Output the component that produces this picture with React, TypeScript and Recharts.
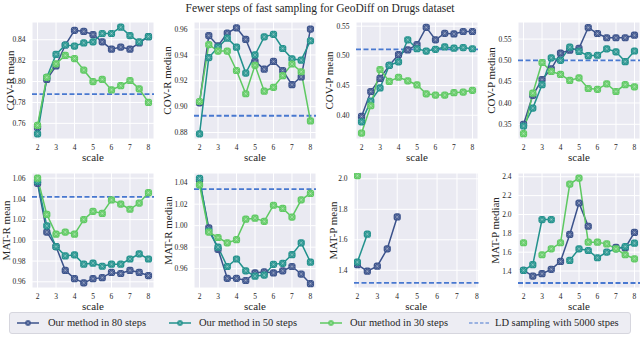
import React from 'react';
import { LineChart, Line, XAxis, YAxis, CartesianGrid, ReferenceLine } from 'recharts';

const NAVY = '#3b528b';
const TEAL = '#21918c';
const GREEN = '#5ec962';
const LD_BLUE = '#4878d0';
const INK = '#262626';
const FONT = '"Liberation Serif", "Times New Roman", serif';

const scales = [2, 2.5, 3, 3.5, 4, 4.5, 5, 5.5, 6, 6.5, 7, 7.5, 8];
const xTicks = [2, 3, 4, 5, 6, 7, 8];

// COV-R mean
const covRMean80 = [0.756, 0.802, 0.815, 0.835, 0.849, 0.848, 0.845, 0.838, 0.831, 0.833, 0.831, 0.837, 0.843];
const covRMean50 = [0.750, 0.804, 0.826, 0.835, 0.834, 0.837, 0.838, 0.846, 0.846, 0.852, 0.844, 0.838, 0.843];
const covRMean30 = [0.758, 0.804, 0.817, 0.825, 0.822, 0.811, 0.800, 0.802, 0.792, 0.796, 0.801, 0.793, 0.780];
const covRMeanLD = 0.788;
const covRMeanTicks = [0.76, 0.78, 0.8, 0.82, 0.84];

// COV-R median
const covRMedian80 = [0.903, 0.955, 0.947, 0.957, 0.961, 0.952, 0.935, 0.929, 0.935, 0.928, 0.917, 0.923, 0.960];
const covRMedian50 = [0.879, 0.938, 0.946, 0.953, 0.946, 0.926, 0.940, 0.954, 0.956, 0.945, 0.937, 0.936, 0.951];
const covRMedian30 = [0.904, 0.948, 0.943, 0.943, 0.928, 0.910, 0.932, 0.912, 0.915, 0.924, 0.933, 0.927, 0.889];
const covRMedianLD = 0.893;
const covRMedianTicks = [0.88, 0.9, 0.92, 0.94, 0.96];

// COV-P mean
const covPMean80 = [0.398, 0.440, 0.462, 0.484, 0.502, 0.510, 0.519, 0.548, 0.527, 0.538, 0.537, 0.541, 0.541];
const covPMean50 = [0.389, 0.424, 0.446, 0.484, 0.490, 0.527, 0.512, 0.508, 0.511, 0.515, 0.513, 0.514, 0.512];
const covPMean30 = [0.370, 0.416, 0.477, 0.457, 0.464, 0.458, 0.451, 0.436, 0.434, 0.434, 0.438, 0.439, 0.442];
const covPMeanLD = 0.511;
const covPMeanTicks = [0.4, 0.45, 0.5, 0.55];

// COV-P median
const covPMedian80 = [0.350, 0.418, 0.455, 0.480, 0.517, 0.524, 0.528, 0.577, 0.563, 0.553, 0.553, 0.553, 0.559];
const covPMedian50 = [0.346, 0.388, 0.443, 0.506, 0.500, 0.531, 0.521, 0.511, 0.512, 0.527, 0.520, 0.497, 0.522];
const covPMedian30 = [0.328, 0.423, 0.495, 0.474, 0.467, 0.453, 0.459, 0.434, 0.432, 0.445, 0.427, 0.443, 0.438];
const covPMedianLD = 0.5;
const covPMedianTicks = [0.35, 0.4, 0.45, 0.5, 0.55];

// MAT-R mean
const matRMean80 = [1.055, 1.008, 0.994, 0.971, 0.963, 0.959, 0.963, 0.964, 0.969, 0.968, 0.971, 0.969, 0.966];
const matRMean50 = [1.057, 1.014, 0.994, 0.985, 0.986, 0.977, 0.978, 0.975, 0.977, 0.977, 0.982, 0.987, 0.982];
const matRMean30 = [1.060, 1.025, 1.006, 1.008, 1.006, 1.020, 1.028, 1.026, 1.039, 1.035, 1.030, 1.036, 1.046];
const matRMeanLD = 1.042;
const matRMeanTicks = [0.96, 0.98, 1.0, 1.02, 1.04, 1.06];

// MAT-R median
const matRMedian80 = [1.042, 0.998, 0.978, 0.951, 0.951, 0.949, 0.956, 0.957, 0.956, 0.958, 0.962, 0.955, 0.946];
const matRMedian50 = [1.044, 0.995, 0.980, 0.962, 0.969, 0.958, 0.953, 0.954, 0.964, 0.965, 0.973, 0.984, 0.966];
const matRMedian30 = [1.038, 0.994, 0.989, 0.984, 0.987, 1.006, 1.007, 1.004, 1.019, 1.016, 1.008, 1.024, 1.030];
const matRMedianLD = 1.034;
const matRMedianTicks = [0.96, 0.98, 1.0, 1.02, 1.04];

// MAT-P mean (missing points are off the chart in the source)
const matPMean80 = [1.437, 1.394, 1.427, 1.541, 1.75, null, null, null, null, null, null, null, null];
const matPMean50 = [1.454, 1.637, null, null, null, null, null, null, null, null, null, null, null];
const matPMean30 = [2.02, null, null, null, null, null, null, null, null, null, null, null, null];
const matPMeanLD = 1.318;
const matPMeanTicks = [1.4, 1.6, 1.8, 2.0];

// MAT-P median
const matPMedian80 = [1.407, 1.347, 1.372, 1.418, 1.502, 1.788, 2.122, 1.875, null, null, 1.65, 1.645, 1.81];
const matPMedian50 = [1.407, 1.467, 1.946, 1.946, null, 1.513, 1.636, 1.618, 1.541, 1.6, 1.636, 1.66, 1.696];
const matPMedian30 = [1.70, null, 1.573, 1.636, 1.70, 2.323, 2.386, 1.706, 1.706, 1.688, 1.636, 1.573, 1.53];
const matPMedianLD = 1.273;
const matPMedianTicks = [1.4, 1.6, 1.8, 2.0, 2.2, 2.4];

const colLeft = [32, 194, 355.5, 517.5];
const rowTop = [22, 172.5];
const rowH = [117, 115];
const PLOT_W = 122;
const AXIS_W = 32;
const TOP_PAD = 6;
const X_AXIS_H = 24;
const TICK_FS = 7.5;

const panels = [
  { name: 'COV-R mean', s80: covRMean80, s50: covRMean50, s30: covRMean30, ld: covRMeanLD, yDomain: [0.745, 0.857], yTicks: covRMeanTicks, dec: 2, row: 0, col: 0, labelX: 10 },
  { name: 'COV-R median', s80: covRMedian80, s50: covRMedian50, s30: covRMedian30, ld: covRMedianLD, yDomain: [0.875, 0.9655], yTicks: covRMedianTicks, dec: 2, row: 0, col: 1, labelX: 167 },
  { name: 'COV-P mean', s80: covPMean80, s50: covPMean50, s30: covPMean30, ld: covPMeanLD, yDomain: [0.36, 0.557], yTicks: covPMeanTicks, dec: 2, row: 0, col: 2, labelX: 328 },
  { name: 'COV-P median', s80: covPMedian80, s50: covPMedian50, s30: covPMedian30, ld: covPMedianLD, yDomain: [0.3155, 0.59], yTicks: covPMedianTicks, dec: 2, row: 0, col: 3, labelX: 490 },
  { name: 'MAT-R mean', s80: matRMean80, s50: matRMean50, s30: matRMean30, ld: matRMeanLD, yDomain: [0.954, 1.065], yTicks: matRMeanTicks, dec: 2, row: 1, col: 0, labelX: 6 },
  { name: 'MAT-R median', s80: matRMedian80, s50: matRMedian50, s30: matRMedian30, ld: matRMedianLD, yDomain: [0.942, 1.049], yTicks: matRMedianTicks, dec: 2, row: 1, col: 1, labelX: 168 },
  { name: 'MAT-P mean', s80: matPMean80, s50: matPMean50, s30: matPMean30, ld: matPMeanLD, yDomain: [1.284, 2.038], yTicks: matPMeanTicks, dec: 1, row: 1, col: 2, labelX: 333, xDomain: [1.83, 8.08], plotLeft: 354, plotW: 124.5 },
  { name: 'MAT-P median', s80: matPMedian80, s50: matPMedian50, s30: matPMedian30, ld: matPMedianLD, yDomain: [1.22, 2.44], yTicks: matPMedianTicks, dec: 1, row: 1, col: 3, labelX: 494 },
];

// blob-like "X" marker: filled disc with a faint white cross, like the downsampled source markers
const xMarker = (color: string) => (props: any) => {
  const { cx, cy, index, value } = props;
  if (cx == null || cy == null || value == null || Number.isNaN(cy)) return <g key={`m-${index}`} />;
  const d = 2.4;
  return (
    <g key={`m-${index}`}>
      <rect x={cx - 3.6} y={cy - 3.6} width={7.2} height={7.2} rx={2.6} fill={color} />
      <path
        d={`M${cx - d},${cy - d}L${cx + d},${cy + d}M${cx - d},${cy + d}L${cx + d},${cy - d}`}
        stroke="#ffffff"
        strokeOpacity={0.35}
        strokeWidth={0.8}
      />
      <path
        d={`M${cx - 3},${cy}L${cx + 3},${cy}M${cx},${cy - 3}L${cx},${cy + 3}`}
        stroke="#ffffff"
        strokeOpacity={0.2}
        strokeWidth={0.8}
      />
    </g>
  );
};

const xTick = (props: any) => (
  <text x={props.x} y={props.y + 11} textAnchor="middle" fontSize={TICK_FS} fontFamily={FONT} fill={INK}>
    {props.payload.value}
  </text>
);

const yTick = (dec: number) => (props: any) => (
  <text x={props.x - 6.5} y={props.y + 2.6} textAnchor="end" fontSize={TICK_FS} fontFamily={FONT} fill={INK}>
    {Number(props.payload.value).toFixed(dec)}
  </text>
);

const Panel = ({ p }: { p: any }) => {
  const plotLeft = p.plotLeft ?? colLeft[p.col];
  const plotW = p.plotW ?? PLOT_W;
  const plotH = rowH[p.row];
  const boxLeft = plotLeft - AXIS_W;
  const boxTop = rowTop[p.row] - TOP_PAD;
  const width = plotW + AXIS_W + 2;
  const height = plotH + TOP_PAD + X_AXIS_H;
  const rows = scales.map((s, i) => ({ scale: s, s80: p.s80[i], s50: p.s50[i], s30: p.s30[i] }));
  const ly = TOP_PAD + plotH / 2;
  const lx = p.labelX - boxLeft;

  return (
    <div style={{ position: 'absolute', left: boxLeft, top: boxTop }}>
      <LineChart width={width} height={height} data={rows} margin={{ top: TOP_PAD, right: 2, left: 0, bottom: 0 }}>
        <CartesianGrid fill="#EAEAF2" stroke="#ffffff" strokeWidth={1} />
        <XAxis
          type="number"
          dataKey="scale"
          domain={p.xDomain ?? [1.7, 8.3]}
          ticks={xTicks}
          interval={0}
          allowDataOverflow
          axisLine={false}
          tickLine={false}
          tickSize={0}
          tickMargin={0}
          height={X_AXIS_H}
          tick={xTick}
          label={() => (
            <text x={AXIS_W + plotW / 2} y={TOP_PAD + plotH + 22} textAnchor="middle" fontSize={11} fontFamily={FONT} fill={INK}>
              scale
            </text>
          )}
        />
        <YAxis
          type="number"
          domain={p.yDomain}
          ticks={p.yTicks}
          interval={0}
          allowDataOverflow
          axisLine={false}
          tickLine={false}
          tickSize={0}
          tickMargin={0}
          width={AXIS_W}
          tick={yTick(p.dec)}
          label={() => (
            <text
              x={lx}
              y={ly}
              transform={`rotate(-90, ${lx}, ${ly})`}
              textAnchor="middle"
              dominantBaseline="central"
              fontSize={11}
              fontFamily={FONT}
              fill={INK}
            >
              {p.name}
            </text>
          )}
        />
        <ReferenceLine y={p.ld} stroke={LD_BLUE} strokeWidth={1.8} strokeDasharray="5 2.5" />
        <Line dataKey="s80" stroke={NAVY} strokeWidth={1.5} dot={xMarker(NAVY)} activeDot={false} isAnimationActive={false} />
        <Line dataKey="s50" stroke={TEAL} strokeWidth={1.5} dot={xMarker(TEAL)} activeDot={false} isAnimationActive={false} />
        <Line dataKey="s30" stroke={GREEN} strokeWidth={1.5} dot={xMarker(GREEN)} activeDot={false} isAnimationActive={false} />
      </LineChart>
    </div>
  );
};

const legendItems = [
  { label: 'Our method in 80 steps', color: NAVY, dashed: false, sx: 15, tx: 47 },
  { label: 'Our method in 50 steps', color: TEAL, dashed: false, sx: 167, tx: 198 },
  { label: 'Our method in 30 steps', color: GREEN, dashed: false, sx: 318, tx: 349 },
  { label: 'LD sampling with 5000 stpes', color: LD_BLUE, dashed: true, sx: 467, tx: 494 },
];

const LegendBox = () => (
  <div
    style={{
      position: 'absolute',
      left: 9,
      top: 312,
      width: 620,
      height: 20,
      background: '#EDEDF3',
      border: '1px solid #d6d6de',
      borderRadius: 3,
      fontFamily: FONT,
      fontSize: 10.5,
      color: INK,
    }}
  >
    {legendItems.map((it) => (
      <React.Fragment key={it.label}>
        <svg style={{ position: 'absolute', left: it.sx - 9, top: 4 }} width={24} height={12}>
          <line
            x1={1}
            y1={6}
            x2={23}
            y2={6}
            stroke={it.color}
            strokeWidth={it.dashed ? 1.2 : 1.5}
            strokeDasharray={it.dashed ? '3.5 2' : undefined}
          />
          {!it.dashed && (
            <g transform="translate(12,6) scale(0.75) translate(-12,-6)">
              {xMarker(it.color)({ cx: 12, cy: 6, index: 0, value: 1 })}
            </g>
          )}
        </svg>
        <span style={{ position: 'absolute', left: it.tx - 9, top: 3, lineHeight: '14px', whiteSpace: 'nowrap' }}>
          {it.label}
        </span>
      </React.Fragment>
    ))}
  </div>
);

export default function App() {
  return (
    <div style={{ position: 'absolute', left: 0, top: 0, width: 640, height: 338, background: '#ffffff', overflow: 'hidden', fontFamily: FONT }}>
      <div
        style={{
          position: 'absolute',
          left: 0,
          top: 1,
          width: 640,
          textAlign: 'center',
          fontSize: 11.5,
          lineHeight: '14px',
          color: INK,
        }}
      >
        Fewer steps of fast sampling for GeoDiff on Drugs dataset
      </div>
      {panels.map((p) => (
        <Panel key={p.name} p={p} />
      ))}
      <LegendBox />
    </div>
  );
}
